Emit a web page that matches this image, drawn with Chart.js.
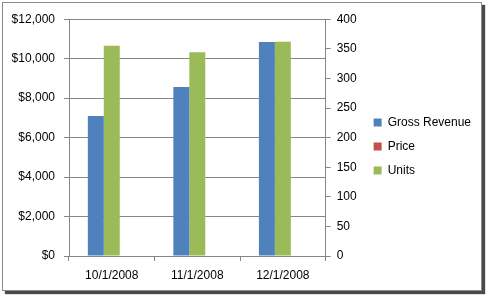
<!DOCTYPE html>
<html>
<head>
<meta charset="utf-8">
<script src="https://cdn.jsdelivr.net/npm/chart.js@4/dist/chart.umd.min.js"></script>
<style>
  body { margin: 0; background: #fff; }
  #frame {
    position: absolute; left: 2px; top: 2px; width: 478px; height: 287px;
    border: 1px solid #8a8a8a; background: #fff;
    box-shadow: 3px 3px 1px #4a4a4a;
  }
  #chart { position: absolute; left: 0; top: 0; }
</style>
</head>
<body>
<div id="frame"><canvas id="chart" width="478" height="287"></canvas></div>
<script>
// data
const months = ['10/1/2008', '11/1/2008', '12/1/2008'];
const grossRevenue = [7100, 8560, 10850];
const price = [20, 25, 30];
const units = [355, 344, 362];

const blue = '#4F81BD';
const red = '#C0504D';
const green = '#9BBB59';
const gridColor = '#868686';
const textColor = '#000';

Chart.defaults.font.family = '"Liberation Sans", Arial, sans-serif';
Chart.defaults.font.size = 12;
Chart.defaults.color = textColor;

// legend order in the picture: Gross Revenue, Price, Units
const legendOrder = ['Gross Revenue', 'Price', 'Units'];

new Chart(document.getElementById('chart'), {
    type: 'bar',
    data: {
        labels: months,
        datasets: [
            { label: 'Gross Revenue', data: grossRevenue, backgroundColor: blue, yAxisID: 'y' },
            { label: 'Units', data: units, backgroundColor: green, yAxisID: 'y1' },
            { label: 'Price', data: price, backgroundColor: red, yAxisID: 'y' }
        ]
    },
    options: {
        responsive: false,
        animation: false,
        layout: { padding: { top: 13, right: 0, bottom: 0, left: 0 } },
        datasets: { bar: { categoryPercentage: 0.56, barPercentage: 1.0 } },
        plugins: {
            tooltip: { enabled: false },
            legend: {
                position: 'right',
                align: 'start',
                maxWidth: 140,
                // empty title only pushes the items down to where Excel put them
                title: { display: true, text: '', padding: { top: 74, bottom: 0 } },
                labels: {
                    boxWidth: 8,
                    boxHeight: 8,
                    padding: 12,
                    sort: (a, b) => legendOrder.indexOf(a.text) - legendOrder.indexOf(b.text)
                }
            }
        },
        scales: {
            x: {
                offset: true,
                grid: { offset: true, drawOnChartArea: false, tickLength: 5, color: gridColor },
                border: { color: gridColor },
                ticks: { padding: 7 },
                afterFit: s => { s.height = 34; }
            },
            y: {
                position: 'left',
                min: 0,
                max: 12000,
                ticks: {
                    stepSize: 2000,
                    padding: 9,
                    callback: v => '$' + v.toLocaleString('en-US')
                },
                grid: { tickLength: 5, color: gridColor },
                border: { color: gridColor },
                afterFit: s => { s.width = 66; }
            },
            y1: {
                position: 'right',
                min: 0,
                max: 400,
                ticks: { stepSize: 50, padding: 6 },
                grid: { drawOnChartArea: false, tickLength: 5, color: gridColor },
                border: { color: gridColor },
                afterFit: s => { s.width = 36; }
            }
        }
    }
});
</script>
</body>
</html>
